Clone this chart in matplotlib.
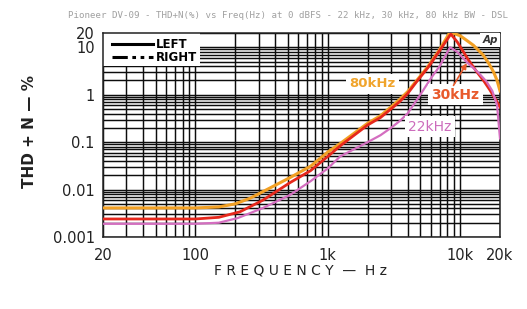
import matplotlib
matplotlib.use("Agg")
import matplotlib.pyplot as plt
from matplotlib.lines import Line2D
from matplotlib.patches import Rectangle
from matplotlib.ticker import FixedLocator, NullFormatter, LogLocator

# ---- data ----
freq_80k = [20, 50, 100, 150, 200, 260, 370, 520, 740, 1000, 1250, 2000, 2500, 3000, 3500,
            4000, 4700, 5700, 7000, 8300, 9000, 10000, 11000, 12600, 14900, 16500, 17900, 19000, 20000]
thd_80k = [0.0041, 0.0041, 0.0041, 0.0043, 0.005, 0.0066, 0.011, 0.018, 0.031, 0.062, 0.095, 0.25, 0.36, 0.55, 0.8,
           1.15, 2.0, 3.9, 9.0, 20.0, 19.5, 17.5, 14.5, 11.0, 6.9, 4.5, 3.0, 2.0, 1.2]

freq_30k = [20, 50, 100, 150, 217, 324, 518, 740, 1000, 1250, 2000, 2500, 3000, 3500,
            4000, 4700, 5700, 7000, 8500, 9500, 11500, 13400, 15000, 16800, 18500, 20000]
thd_30k = [0.0024, 0.0024, 0.0024, 0.0026, 0.0034, 0.006, 0.014, 0.025, 0.05, 0.085, 0.23, 0.33, 0.5, 0.72,
           1.05, 1.9, 3.7, 8.5, 19.0, 13.0, 5.5, 3.0, 2.0, 1.25, 0.8, 0.55]

freq_22k = [20, 50, 100, 150, 208, 324, 518, 740, 1000, 1240, 2000, 2500, 3000, 3500, 4000,
            5000, 6000, 7000, 8400, 9500, 11200, 13600, 15800, 17500, 19000, 20000]
thd_22k = [0.0019, 0.0019, 0.0019, 0.002, 0.0025, 0.0041, 0.0077, 0.015, 0.028, 0.05, 0.1, 0.14, 0.2, 0.28, 0.4,
           1.0, 2.2, 4.0, 10.0, 8.0, 4.9, 3.0, 1.9, 1.2, 0.6, 0.12]

x_ticks = [20, 100, 1000, 10000, 20000]
x_ticklabels = ["20", "100", "1k", "10k", "20k"]
y_ticks = [0.001, 0.01, 0.1, 1, 10, 20]
y_ticklabels = ["0.001", "0.01", "0.1", "1", "10", "20"]

labels = ["80kHz", "30kHz", "22kHz"]
colors = ["#f2a024", "#e6281c", "#d46ec0"]
label_colors = ["#f0a42c", "#e85a2c", "#cc6cbc"]

W, H = 527, 309
fig = plt.figure(figsize=(W / 100, H / 100), dpi=100)
fig.patch.set_facecolor("white")
ax = fig.add_axes([103 / W, 1 - 237 / H, 397 / W, 204 / H])
ax.set_xscale("log")
ax.set_yscale("log")
ax.set_xlim(20, 20000)
ax.set_ylim(0.001, 20)

# grid: all decades + minors, dark
ax.xaxis.set_major_locator(FixedLocator(x_ticks))
ax.xaxis.set_minor_locator(LogLocator(base=10, subs=range(1, 10), numticks=50))
ax.yaxis.set_major_locator(FixedLocator(y_ticks))
ax.yaxis.set_minor_locator(LogLocator(base=10, subs=range(1, 10), numticks=50))
ax.xaxis.set_minor_formatter(NullFormatter())
ax.yaxis.set_minor_formatter(NullFormatter())
ax.set_xticklabels(x_ticklabels)
ax.set_yticklabels(y_ticklabels)
ax.grid(True, which="both", color="#0d0d0d", linewidth=1.05)
ax.tick_params(which="both", length=0)
ax.tick_params(axis="x", pad=8, labelsize=10.5, colors="#222")
ax.tick_params(axis="y", pad=6, labelsize=10.5, colors="#222")
for s in ax.spines.values():
    s.set_color("#222")
    s.set_linewidth(1.1)
ax.set_axisbelow(True)

# curves
ax.plot(freq_80k, thd_80k, color=colors[0], lw=2.2, zorder=3)
ax.plot(freq_30k, thd_30k, color=colors[1], lw=2.0, zorder=4)
ax.plot(freq_22k, thd_22k, color=colors[2], lw=1.6, zorder=5)

# legend box (white patch over grid)
ax.add_patch(Rectangle((0, 0.84), 0.245, 0.16, transform=ax.transAxes,
                       facecolor="white", edgecolor="none", zorder=2))
h1 = Line2D([], [], color="black", lw=2.2)
h2 = Line2D([], [], color="black", lw=2.2, linestyle=(0, (5, 1.5, 1.2, 1.5, 1.2, 1.5)))
leg = ax.legend([h1, h2], ["LEFT", "RIGHT"], loc="upper left", bbox_to_anchor=(0.0, 1.02),
                frameon=False, handlelength=3.4, handletextpad=0.3, labelspacing=0.0,
                prop={"weight": "bold", "size": 8.5}, borderaxespad=0.4)
leg.set_zorder(6)

# curve labels
bb = dict(facecolor="white", edgecolor="none", pad=2.5)
ax.text(2160, 1.69, labels[0], color=label_colors[0], fontsize=9.5, fontweight="bold",
        ha="center", va="center", bbox=bb, zorder=6)
ax.text(9160, 0.99, labels[1], color=label_colors[1], fontsize=10, fontweight="bold",
        ha="center", va="center", bbox=bb, zorder=6)
ax.text(5930, 0.21, labels[2], color=label_colors[2], fontsize=10,
        ha="center", va="center", bbox=bb, zorder=6)
ax.annotate("", xy=(11500, 5.2), xytext=(8690, 1.4),
            arrowprops=dict(arrowstyle="-|>", color=label_colors[1], lw=1.2,
                            mutation_scale=8), zorder=6)
ax.text(16800, 14.3, "Ap", fontsize=7.5, fontweight="bold", fontstyle="italic",
        color="#333", ha="center", va="center",
        bbox=dict(facecolor="white", edgecolor="none", pad=1.5), zorder=6)

# axis titles
fig.text(30 / W, 1 - 132 / H, "THD + N — %", rotation=90, fontsize=11,
         fontweight="bold", color="#222", ha="center", va="center")
fig.text(301 / W, 1 - 271 / H, "F R E Q U E N C Y  —  H z", fontsize=10,
         color="#222", ha="center", va="center")

# header
fig.text(68 / W, 1 - 15 / H,
         "Pioneer DV-09 - THD+N(%) vs Freq(Hz) at 0 dBFS - 22 kHz, 30 kHz, 80 kHz BW - DSL",
         fontsize=6.6, family="DejaVu Sans Mono", color="#a0a0a0", ha="left", va="center")

fig.savefig("out.png", dpi=100, facecolor="white")
